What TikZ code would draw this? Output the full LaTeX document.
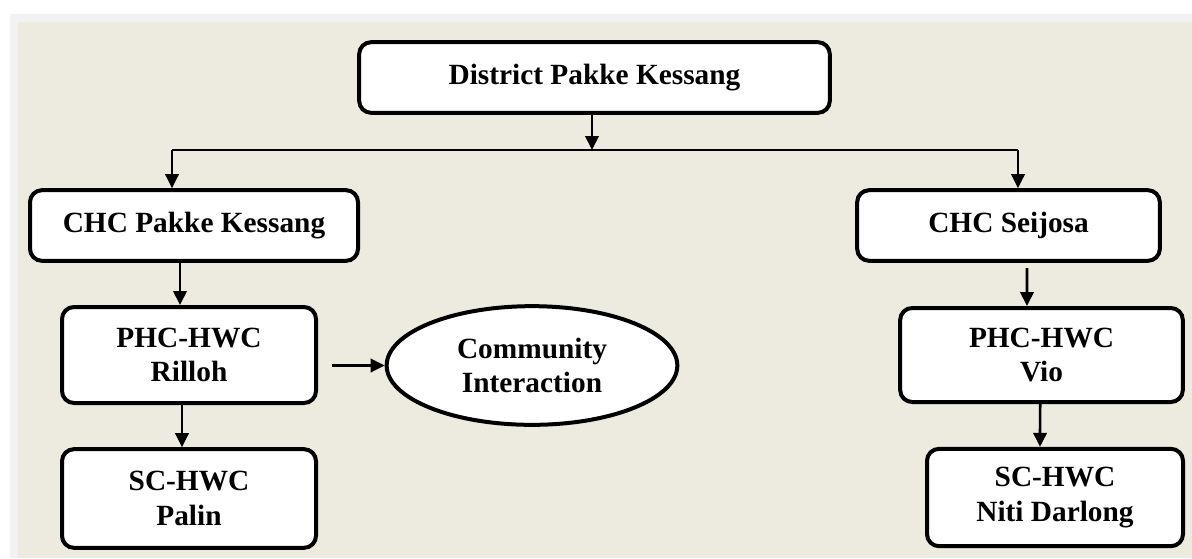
\documentclass[tikz,border=0pt]{standalone}
\usepackage{fontspec}
\setmainfont{Liberation Serif}
\usepackage{tikz}
\usetikzlibrary{arrows.meta}
\usetikzlibrary{shapes.geometric}
\usetikzlibrary{positioning}
\definecolor{panelbeige}{HTML}{EDEAE0}
\definecolor{panelgray}{HTML}{F2F2F2}

\begin{document}
\begin{tikzpicture}
      [x=0.75pt,y=-0.75pt,
      every node/.style={align=center,font=\bfseries\fontsize{22}{26}\selectfont},
      unit/.style={shape=rectangle,draw,line width=3pt,rounded corners=9pt,fill=white,minimum height=53pt},
      bubble/.style={shape=ellipse,draw,line width=3pt,fill=white,inner sep=0pt},
      arr/.style={-{Triangle[length=10.5pt,width=10pt]},line width=2pt}]
\fill[white] (0,0) rectangle (1192,558);
\fill[panelgray] (10,14) rectangle (1192,558);
\fill[panelbeige] (18,22) rectangle (1192,558);

\node[unit,minimum width=353pt] (district) at (594.5,77.5) {District Pakke Kessang};
\node[unit,minimum width=246pt] (chcPakke) at (194,225.5) {CHC Pakke Kessang};
\node[unit,minimum width=227pt] (chcSeijosa) at (1008.5,225.5) {CHC Seijosa};
\node[unit,minimum width=190.5pt,minimum height=72pt] (phcRilloh) at (189,355) {PHC-HWC\\Rilloh};
\node[unit,minimum width=190.5pt,minimum height=74pt] (scPalin) at (189,498.5) {SC-HWC\\Palin};
\node[bubble,minimum width=218pt,minimum height=89pt] (community) at (532,365.5) {Community\\Interaction};
\node[unit,minimum width=212pt,minimum height=70.5pt] (phcVio) at (1041.5,355) {PHC-HWC\\Vio};
\node[unit,minimum width=192pt,minimum height=73pt] (scNiti) at (1055,497.5) {SC-HWC\\Niti Darlong};

\coordinate (bus) at (592,150);
\coordinate (busLeft) at (172,150);
\coordinate (busRight) at (1018,150);
\draw[arr] (district.south -| bus) -- (bus);
\draw[line width=2pt] (busLeft) -- (busRight);
\draw[arr] (busLeft) -- (busLeft |- chcPakke.north);
\draw[arr] (busRight) -- (busRight |- chcSeijosa.north);
\draw[arr] ([xshift=-10.5pt]chcPakke.south) -- ([xshift=-6.75pt]phcRilloh.north);
\draw[arr] ([xshift=-5.25pt]phcRilloh.south) -- ([xshift=-5.25pt]scPalin.north);
\draw[arr,shorten <=10.5pt] (phcRilloh.east |- community.west) -- (community.west);
\draw[arr,shorten <=4pt] ([xshift=13.9pt]chcSeijosa.south) -- ([xshift=-10.9pt]phcVio.north);
\draw[arr] ([xshift=-1pt]phcVio.south) -- ([xshift=-11.25pt]scNiti.north);

   \end{tikzpicture}
\end{document}
